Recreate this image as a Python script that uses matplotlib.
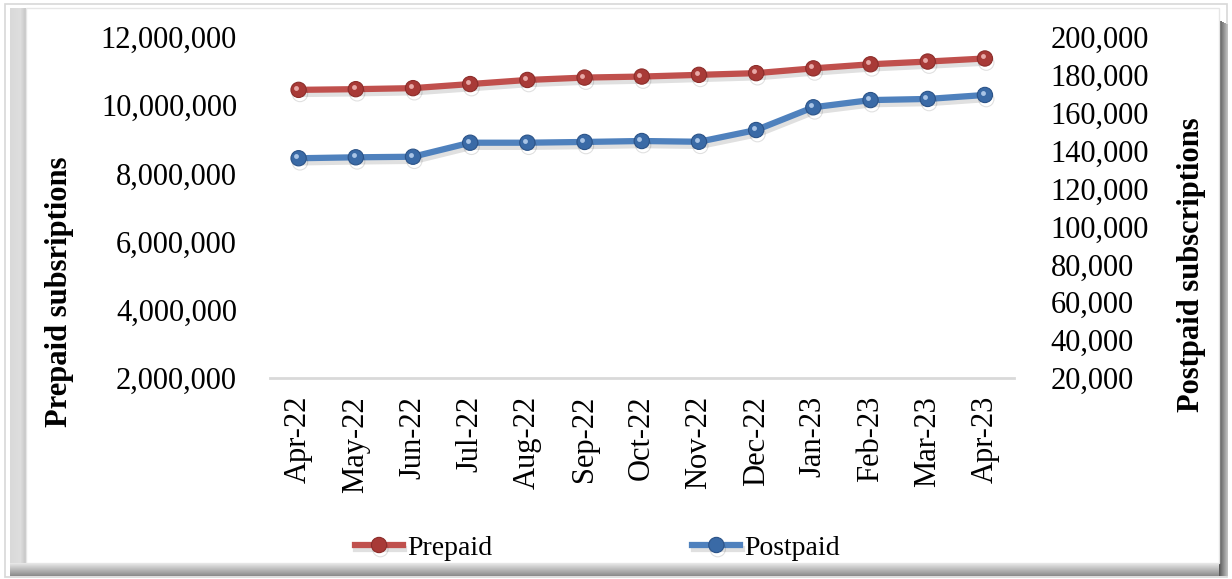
import matplotlib
matplotlib.use("Agg")
import matplotlib.pyplot as plt
import matplotlib.patheffects as pe
from matplotlib.patches import Rectangle
from matplotlib.ticker import FuncFormatter
import numpy as np

months = ["Apr-22", "May-22", "Jun-22", "Jul-22", "Aug-22", "Sep-22", "Oct-22",
          "Nov-22", "Dec-22", "Jan-23", "Feb-23", "Mar-23", "Apr-23"]
prepaid = [10450000, 10470000, 10500000, 10620000, 10740000, 10810000, 10840000,
           10890000, 10940000, 11080000, 11200000, 11280000, 11370000]
postpaid = [136000, 136500, 136800, 144200, 144200, 144600, 145100,
            144700, 150900, 162900, 166700, 167300, 169400]

W, H = 1232, 579
plt.rcParams['font.family'] = ['Liberation Serif', 'DejaVu Serif']
FS = 22

fig = plt.figure(figsize=(W / 100, H / 100), dpi=100)

def px(x0, y0, x1, y1):
    # figure-fraction rect from pixel box (top-left origin)
    return (x0 / W, 1 - y1 / H, (x1 - x0) / W, (y1 - y0) / H)

def pt(p):
    return p * 72 / 100

def add_rect(x0, y0, x1, y1, color, z=0):
    l, b, w, h = px(x0, y0, x1, y1)
    fig.patches.append(Rectangle((l, b), w, h, transform=fig.transFigure,
                                 facecolor=color, edgecolor='none', zorder=z))

# frame: thin outer border + bevelled panel
l, b, w, h = px(5, 4, 1227, 577)
fig.patches.append(Rectangle((l, b), w, h, transform=fig.transFigure,
                             facecolor='white', edgecolor='#d8d8d8', lw=1.2, zorder=0))
for i in range(16):
    g = 0.95 - 0.1 * abs(i - 10) / 10 - 0.12 * (i / 15)
    add_rect(10 + i, 8, 11 + i, 563, str(g), 1)
for i in range(13):
    g = 0.9 - 0.35 * (i / 12)
    add_rect(10, 563 + i, 1228, 564 + i, str(g), 1)
for i in range(9):
    g = 0.35 + 0.4 * (i / 8)
    add_rect(1219 + i, 20 + i * 0.5, 1220 + i, 576, str(g), 1)
add_rect(26, 8, 1219, 563, 'white', 1)
l, b, w, h = px(26, 8, 1219, 563)
fig.patches.append(Rectangle((l, b), w, h, transform=fig.transFigure,
                             facecolor='none', edgecolor='#e6e6e6', lw=1, zorder=2))

ax = fig.add_axes(px(270, 37, 1013.5, 378))
ax.set_zorder(3)
ax.patch.set_visible(False)
ax2 = ax.twinx()

x = np.arange(len(months))
red, blue = '#C0504D', '#4F81BD'
shadow = [pe.SimpleLineShadow(offset=(1, -3), alpha=0.12, shadow_color='k'), pe.Normal()]

l1, = ax.plot(x, prepaid, color=red, lw=4.5, marker='o', ms=11,
              mfc='#a83a37', mec='#8c2d2a', mew=0.8, label='Prepaid',
              path_effects=shadow, zorder=4)
ax.plot(x - 0.04, np.array(prepaid) + 60000, ls='none', marker='o', ms=3.5,
        mfc='#e8a9a7', mec='none', zorder=5)
l2, = ax2.plot(x, postpaid, color=blue, lw=4.5, marker='o', ms=11,
               mfc='#3a6aa6', mec='#2b5388', mew=0.8, label='Postpaid',
               path_effects=shadow, zorder=4)
ax2.plot(x - 0.04, np.array(postpaid) + 1100, ls='none', marker='o', ms=3.5,
         mfc='#a9c4e6', mec='none', zorder=5)

ax.set_xlim(-0.5, len(months) - 0.5)
ax.set_ylim(2000000, 12000000)
ax2.set_ylim(20000, 200000)
ax.set_yticks(np.arange(2000000, 12000001, 2000000))
ax2.set_yticks(np.arange(20000, 200001, 20000))
fmt = FuncFormatter(lambda v, p: f"{int(v):,}")
ax.yaxis.set_major_formatter(fmt)
ax2.yaxis.set_major_formatter(fmt)

ax.set_xticks(x)
ax.set_xticklabels(months, rotation=90, fontsize=FS)
ax.tick_params(axis='x', length=0, pad=pt(18))
ax.tick_params(axis='y', length=0, pad=pt(33), labelsize=FS)
ax2.tick_params(axis='y', length=0, pad=pt(37), labelsize=FS)

for a in (ax, ax2):
    for s in a.spines.values():
        s.set_visible(False)
ax.spines['bottom'].set_visible(True)
ax.spines['bottom'].set_color('#d9d9d9')
ax.spines['bottom'].set_linewidth(2)

fig.text(60 / W, 1 - 292 / H, "Prepaid subsriptions", rotation=90, fontsize=FS,
         fontweight='bold', ha='center', va='center')
fig.text(1192 / W, 1 - 265 / H, "Postpaid subscriptions", rotation=90, fontsize=FS,
         fontweight='bold', ha='center', va='center')

fig.legend(handles=[l1, l2], labels=['Prepaid', 'Postpaid'], ncol=2, frameon=False,
           loc='center left', bbox_to_anchor=(355 / W, 1 - 548 / H), fontsize=20,
           handlelength=1.73, handletextpad=0.15, columnspacing=7.2, borderpad=0,
           borderaxespad=0)

fig.savefig("out.png", dpi=100)
